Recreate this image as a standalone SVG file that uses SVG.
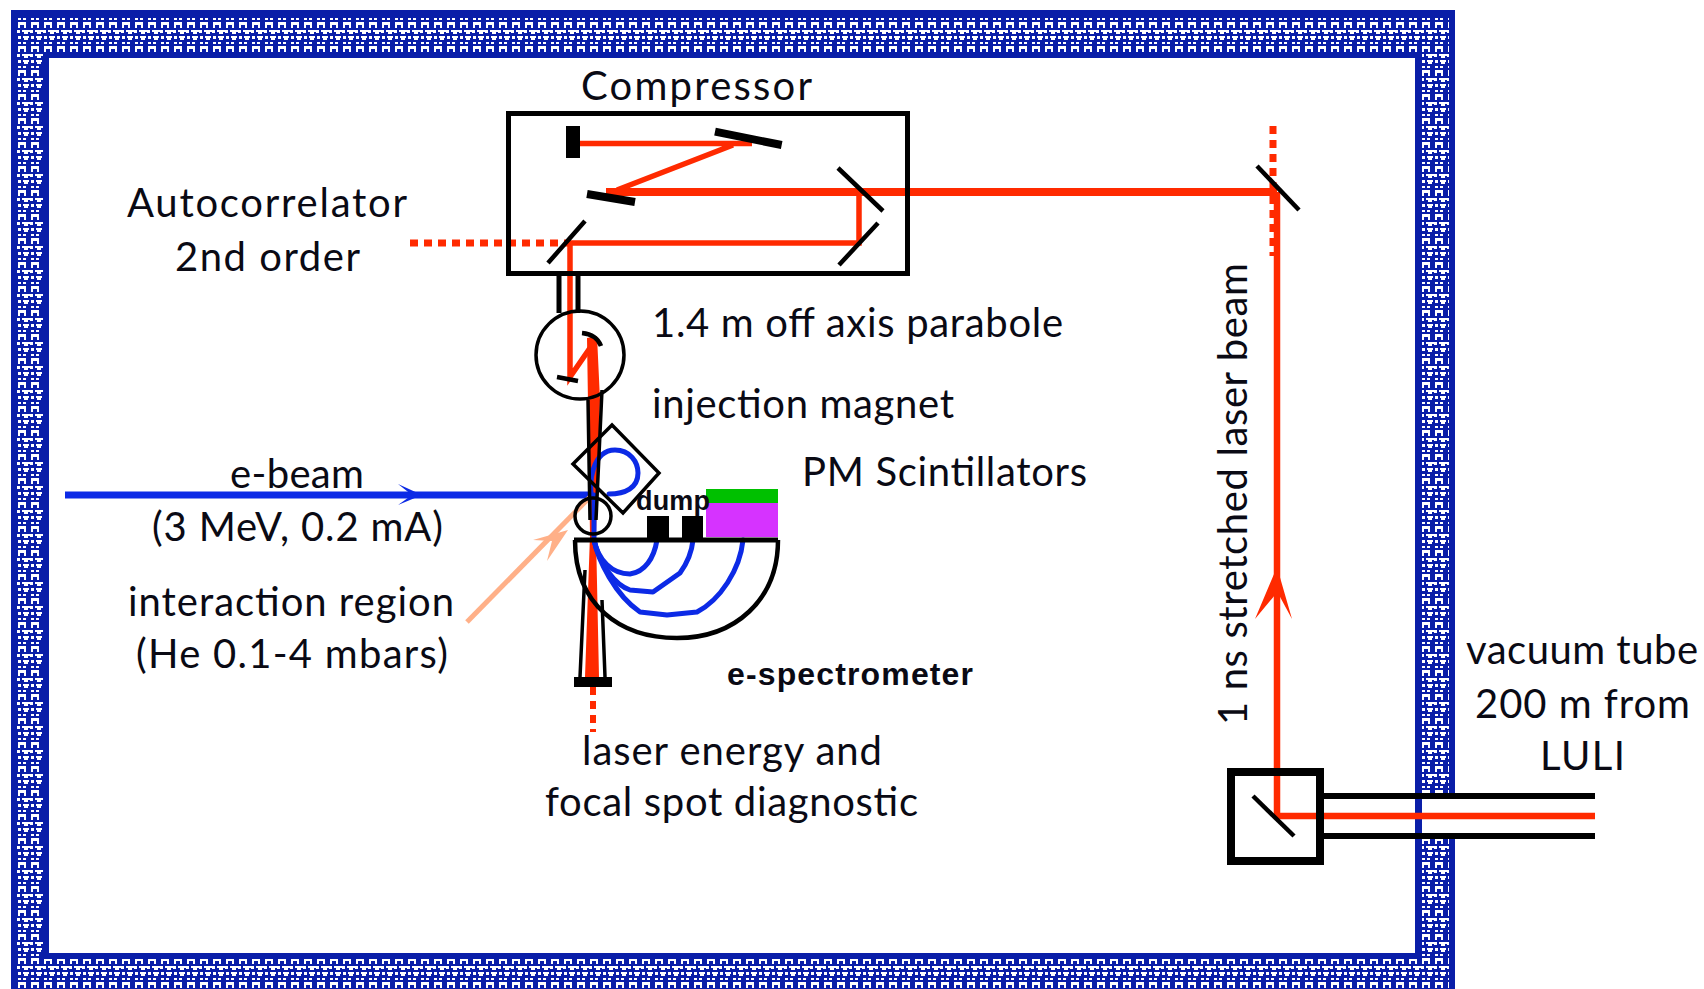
<svg xmlns="http://www.w3.org/2000/svg" width="1704" height="989" viewBox="0 0 1704 989">
<style>
text{font-family:"Lato","Noto Sans",sans-serif;font-size:40px;fill:#0a0a14}
.b{font-family:"Liberation Sans",Arial,sans-serif;font-weight:bold;font-size:32px}
.k{fill:none;stroke:#000;stroke-width:4.500}
.r{fill:none;stroke:#ff2a00;stroke-width:5.500}
.d{fill:none;stroke:#ff2a00;stroke-width:7;stroke-dasharray:8 6}
.u{fill:none;stroke:#0c2ae6;stroke-width:5;stroke-linejoin:round;stroke-linecap:round}
</style>
<defs>
<pattern id="brick" x="17" y="17" width="13" height="24" patternUnits="userSpaceOnUse">
<rect width="13" height="24" fill="#0a1ea8"/>
<g fill="#fff">
<rect x="1" y="1" width="3" height="2"/><rect x="6" y="1" width="3" height="2"/>
<path d="M1 5h8v6h-2v-3h-4v3h-2z"/>
<path d="M0 13h3v3h-3zM5 13h8v2h-2v2h-4v-2h-2z"/>
<path d="M1 19h3v3h-3zM6 19h6v2h-1v2h-4v-2h-1z"/>
</g>
</pattern>
</defs>
<g id="frame">
<rect x="11" y="10" width="1444" height="1000" fill="#0a1ea8"/>
<rect x="17" y="17" width="1432" height="990" fill="url(#brick)"/>
<rect x="43" y="52" width="1379" height="907" fill="#0a1ea8"/>
<rect x="49" y="58" width="1366" height="895" fill="#fff"/>
<rect x="1422" y="798" width="34" height="36" fill="#fff"/>
</g>
<g id="connectors">
<path class="r" style="stroke-width:8" d="M606 192H1277"/>
<path class="r" d="M1277 192V816H1595" style="stroke-width:6.500"/>
<path class="d" d="M1273 126V256"/>
<path class="d" d="M410 243H570"/>
<path class="r" d="M580 143.500H752M733 145L617 190M859 192V243H570V377L590 348"/>
<path fill="#ff2a00" d="M587 338L597 336L600 400L596 535L599 677H585L590 535Z"/>
<path class="d" style="stroke-width:6" d="M593 687V732"/>
<path fill="#ff2a00" d="M1277 567L1292 619L1279 595H1275L1255 619Z"/>
<path class="u" style="stroke-width:7;stroke-linecap:butt" d="M65 495H590"/>
<path fill="#0c2ae6" d="M398 484L422 495L398 505L412 495Z"/>
<path class="u" d="M592 497C588 485 592 450 615 450C630 450 638 462 638 473C638 488 625 494 609 494"/>
<path class="u" d="M594 495V540"/>
<path class="u" d="M594 540C598 560 612 574 630 574C645 572 654 558 657 540"/>
<path class="u" d="M594 540C600 565 615 585 630 590L653 592L680 573C688 562 692 550 693 540"/>
<path class="u" d="M594 540C598 560 615 595 640 612L667 615L697 612C720 600 740 570 743 540"/>
<path fill="none" stroke="#ffb088" stroke-width="5" d="M467 622L590 497"/>
<path fill="#ffb088" d="M568 530L547 561L552 541L533 540Z"/>
</g>
<g id="compressor">
<rect x="508.500" y="113.500" width="399" height="160" fill="none" stroke="#000" stroke-width="5"/>
<rect x="566" y="126" width="14" height="32"/>
<path class="k" style="stroke-width:8" d="M715 131.700L781.700 145M587 194L635 202"/>
<path class="k" d="M838 168L883 211M878 223L839 265M585 221L548 263"/>
</g>
<g id="parabole">
<path class="k" style="stroke-width:5" d="M559 276V313M578 276V313"/>
<circle cx="580" cy="355" r="44" fill="none" stroke="#000" stroke-width="3.500"/>
<path class="k" d="M557 377L578 381M582 333C592 334 598 338 601 346"/>
</g>
<g id="focus-chamber">
<path class="k" style="stroke-width:3.500" d="M588 400L590 520M602 390L596 520M585 570L580 677M602 600L605 677"/>
<rect x="574" y="677" width="38" height="10"/>
</g>
<g id="injection-magnet">
<path fill="none" stroke="#000" stroke-width="3.500" d="M612 425L659 473L623 513L573 464Z"/>
<circle cx="593" cy="516" r="18" fill="none" stroke="#000" stroke-width="3.500"/>
</g>
<g id="spectrometer">
<path class="k" d="M575 540C575 605 620 638 677 638C735 638 778 600 778 540"/>
<path class="k" style="stroke-width:5" d="M574 540H778"/>
<rect x="647" y="516" width="22" height="22"/>
<rect x="682" y="516" width="21" height="22"/>
<rect x="706" y="503" width="72" height="34" fill="#d633ff"/>
<rect x="706" y="489" width="72" height="14" fill="#00c000"/>
</g>
<g id="switch-box">
<rect x="1231" y="772" width="89" height="89" fill="none" stroke="#000" stroke-width="8"/>
<path class="k" d="M1253 796L1294 836"/>
<path class="k" style="stroke-width:6" d="M1324 796H1595M1324 836H1595"/>
<path class="k" d="M1257 166L1299 210"/>
</g>
<g id="labels">
<text x="581" y="100" textLength="231">Compressor</text>
<text x="127" y="217" textLength="280">Autocorrelator</text>
<text x="175" y="271" textLength="185">2nd order</text>
<text x="652" y="337" textLength="411">1.4 m off axis parabole</text>
<text x="652" y="418" textLength="302">injection magnet</text>
<text x="802" y="486" textLength="285">PM Scintillators</text>
<text x="230" y="488" textLength="134">e-beam</text>
<text x="152" y="541" textLength="291">(3 MeV, 0.2 mA)</text>
<text x="128" y="616" textLength="326">interaction region</text>
<text x="136" y="668" textLength="312">(He 0.1-4 mbars)</text>
<text x="582" y="765" textLength="300">laser energy and</text>
<text x="545" y="816" textLength="373">focal spot diagnostic</text>
<text x="1466" y="664" textLength="232">vacuum tube</text>
<text x="1475" y="718" textLength="215">200 m from</text>
<text x="1540" y="770" textLength="85">LULI</text>
<text transform="translate(1247 725) rotate(-90)" textLength="462">1 ns stretched laser beam</text>
<text class="b" style="font-size:27px" x="636" y="510" textLength="74">dump</text>
<text class="b" x="727" y="685" textLength="246">e-spectrometer</text>
</g>
</svg>
